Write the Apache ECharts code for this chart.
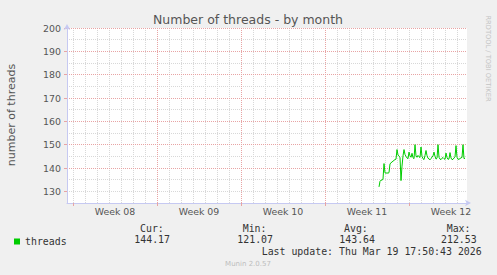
<!DOCTYPE html>
<html>
<head>
<meta charset="utf-8">
<script src="https://cdn.jsdelivr.net/npm/echarts@6/dist/echarts.min.js"></script>
<style>
html,body{margin:0;padding:0;background:#f0f0f0;}
#c{width:497px;height:275px;}
</style>
</head>
<body>
<div id="c"></div>
<script>
// ---- data ----
const chartTitle = 'Number of threads - by month';
const yAxisName = 'number of threads';
const seriesName = 'threads';
const weekLabels = ['Week 08', 'Week 09', 'Week 10', 'Week 11', 'Week 12'];
const yTickValues = [130, 140, 150, 160, 170, 180, 190, 200];
// hours since the start of Week 08
const hours = [
  612, 614, 616, 618, 620, 622, 624, 626, 628, 630, 632, 634, 636, 638, 640, 642, 644, 646, 648, 650,
  652, 654, 656, 658, 660, 662, 664, 666, 668, 670, 672, 674, 676, 678, 680, 682, 684, 686, 688, 690,
  692, 694, 696, 698, 700, 702, 704, 706, 708, 710, 712, 714, 716, 718, 720, 722, 724, 726, 728, 730,
  732, 734, 736, 738, 740, 742, 744, 746, 748, 750, 752, 754, 756, 758, 760, 762, 764, 766, 768, 770,
  772, 774, 776, 778, 780, 782, 784
];
const threads = [
  131.9, 134.3, 134.8, 134.8, 135.2, 141.9, 137.9, 137.8, 137.9, 137.8, 138.0, 141.8, 142.2, 142.6, 142.9, 143.3, 143.6, 143.8, 147.9, 145.6,
  145.0, 144.6, 134.6, 140.8, 145.2, 147.9, 145.8, 145.0, 144.3, 144.0, 146.8, 145.2, 144.6, 146.3, 144.4, 144.0, 150.0, 145.2, 144.6, 145.4,
  144.8, 144.5, 149.0, 145.0, 144.0, 143.6, 145.4, 147.5, 145.3, 144.2, 143.9, 143.5, 144.0, 144.7, 145.2, 146.8, 145.0, 143.8, 144.2, 150.0,
  144.6, 143.8, 143.6, 144.2, 144.5, 144.0, 143.7, 146.4, 144.5, 143.7, 143.9, 146.6, 144.3, 143.6, 143.7, 144.3, 144.8, 149.6, 144.6, 143.7,
  143.8, 144.0, 144.4, 144.5, 150.0, 144.0, 144.2
];
const statLabels = ['Cur:', 'Min:', 'Avg:', 'Max:'];
const statValues = ['144.17', '121.07', '143.64', '212.53'];
const lastUpdate = 'Last update: Thu Mar 19 17:50:43 2026';
const footerText = 'Munin 2.0.57';
const watermark = 'RRDTOOL / TOBI OETIKER';

// ---- layout / style ----
const SANS = '"DejaVu Sans", sans-serif';
const MONO = '"DejaVu Sans Mono", monospace';
const TXT = '#555555';
const DARK = '#333333';
const RED = '#e8a4a4';
const GREY = '#d8d8d8';
const AXIS = '#c6c9f2';
const GREEN = '#00cc00';

// x extents: left edge = -12 h, 2 hours per pixel, 400 px wide
const X_MIN_H = -12, X_MAX_H = 788;
const dayMin = X_MIN_H / 24, dayMax = X_MAX_H / 24;
const weekMin = dayMin / 7, weekMax = dayMax / 7;

const chart = echarts.init(document.getElementById('c'), null, {renderer: 'svg', width: 497, height: 275});

const dotted = (c) => ({color: c, width: 1, type: 'dotted'});

const statX = [134.3, 237.3, 339.3, 441];
const labelX = [140, 242.7, 344, 446.7];

const graphics = [];
const txt = (text, x, y, font, fill, align, rotation) => ({
  type: 'text', x: x, y: y, rotation: rotation || 0, silent: true,
  style: {text: text, font: font, fill: fill, textAlign: align || 'left', align: align || 'left',
          textVerticalAlign: 'middle', verticalAlign: 'middle'}
});
graphics.push(txt(chartTitle, 248, 19, '12.5px ' + SANS, TXT, 'center'));
graphics.push(txt(yAxisName, 11, 115, '11px ' + SANS, TXT, 'center', Math.PI / 2));
graphics.push(txt(watermark, 487.5, 58.5, '6.7px ' + SANS, '#c4c4c4', 'center', -Math.PI / 2));
statLabels.forEach((s, i) => graphics.push(txt(s, labelX[i], 228.5, '9.9px ' + MONO, DARK, 'left')));
statValues.forEach((s, i) => graphics.push(txt(s, statX[i], 239.5, '9.9px ' + MONO, DARK, 'left')));
graphics.push(txt(lastUpdate, 261.7, 251.7, '9.9px ' + MONO, DARK, 'left'));
graphics.push(txt(footerText, 248, 264, '7px ' + SANS, '#bdbdbd', 'center'));

const option = {
  animation: false,
  backgroundColor: '#f0f0f0',
  grid: {left: 67, top: 28, width: 400, height: 175, show: true, backgroundColor: '#ffffff',
         borderWidth: 0, containLabel: false, outerBoundsMode: 'none'},
  legend: {
    data: [seriesName], left: 14, top: 236.5, itemWidth: 6, itemHeight: 6, icon: 'rect',
    itemGap: 10, padding: 0,
    textStyle: {fontFamily: MONO, fontSize: 9.9, color: DARK}
  },
  xAxis: [
    { // data axis (hours)
      type: 'value', position: 'bottom', min: X_MIN_H, max: X_MAX_H, show: false, splitLine: {show: false}
    },
    { // daily minor grid
      type: 'value', position: 'bottom', min: dayMin, max: dayMax, splitNumber: 33, minInterval: 1, maxInterval: 1,
      axisLine: {show: false}, axisTick: {show: false}, axisLabel: {show: false},
      splitLine: {show: true, showMinLine: false, showMaxLine: false, lineStyle: dotted(GREY)}
    },
    { // weekly major grid + labels
      type: 'value', position: 'bottom', min: weekMin, max: weekMax, splitNumber: 5, minInterval: 1, maxInterval: 1, z: 1,
      axisLine: {show: true, onZero: false, lineStyle: {color: AXIS, width: 1}, symbol: ['none', 'arrow'],
                 symbolSize: [5, 6], symbolOffset: [0, 4]},
      axisTick: {show: true, length: 3, inside: false, lineStyle: {color: RED},
                 customValues: weekLabels.map((w, i) => i)},
      axisLabel: {show: true, margin: 4, fontFamily: SANS, fontSize: 9.4, color: TXT,
                  customValues: weekLabels.map((w, i) => i + 0.5),
                  formatter: (v) => weekLabels[Math.floor(v)] || ''},
      splitLine: {show: true, showMinLine: false, showMaxLine: false, lineStyle: dotted(RED)}
    }
  ],
  yAxis: [
    { // data axis, minor grid every 5
      type: 'value', position: 'left', min: 125, max: 200, interval: 5,
      axisLine: {show: false}, axisTick: {show: false}, axisLabel: {show: false},
      splitLine: {show: true, showMinLine: false, showMaxLine: false, lineStyle: dotted(GREY)}
    },
    { // major grid every 10 + labels
      type: 'value', position: 'left', min: 125, max: 200, splitNumber: 7, minInterval: 10, maxInterval: 10, z: 1,
      axisLine: {show: true, onZero: false, lineStyle: {color: AXIS, width: 1}, symbol: ['none', 'arrow'],
                 symbolSize: [5, 6], symbolOffset: [0, 4]},
      axisTick: {show: true, length: 3, inside: false, lineStyle: {color: RED}, customValues: yTickValues},
      axisLabel: {show: true, margin: 6, fontFamily: SANS, fontSize: 9.4, color: TXT,
                  customValues: yTickValues, formatter: (v) => String(v)},
      splitLine: {show: true, showMinLine: false, showMaxLine: true, lineStyle: dotted(RED)}
    }
  ],
  series: [{
    name: seriesName, type: 'line', xAxisIndex: 0, yAxisIndex: 0,
    data: hours.map((h, i) => [h, threads[i]]),
    showSymbol: false, symbol: 'none', color: GREEN,
    lineStyle: {color: GREEN, width: 1}, itemStyle: {color: GREEN},
    clip: true, z: 5
  }],
  graphic: graphics
};
chart.setOption(option);
</script>
</body>
</html>
